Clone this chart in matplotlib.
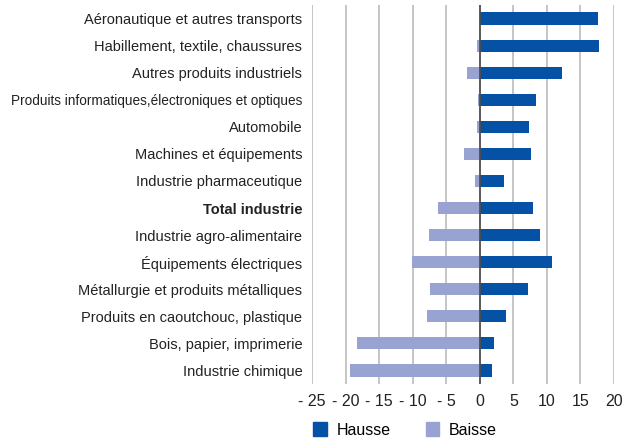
import matplotlib.pyplot as plt
from matplotlib.patches import Patch

plt.rcParams['font.family'] = ['Liberation Sans', 'DejaVu Sans']

# secteurs, du haut vers le bas
secteurs = [
    "Aéronautique et autres transports",
    "Habillement, textile, chaussures",
    "Autres produits industriels",
    "Produits informatiques,électroniques et optiques",
    "Automobile",
    "Machines et équipements",
    "Industrie pharmaceutique",
    "Total industrie",
    "Industrie agro-alimentaire",
    "Équipements électriques",
    "Métallurgie et produits métalliques",
    "Produits en caoutchouc, plastique",
    "Bois, papier, imprimerie",
    "Industrie chimique",
]
hausse = [17.6, 17.8, 12.3, 8.4, 7.4, 7.7, 3.6, 7.9, 9.0, 10.8, 7.2, 3.9, 2.1, 1.8]
baisse = [0.0, -0.4, -1.9, -0.2, -0.4, -2.3, -0.7, -6.2, -7.6, -10.1, -7.4, -7.9, -18.3, -19.4]
ticks = [-25, -20, -15, -10, -5, 0, 5, 10, 15, 20]

c_hausse = '#0451A5'
c_baisse = '#99A3D1'

fig = plt.figure(figsize=(6.33, 4.41), dpi=100)
ax = fig.add_axes([312 / 633, 1 - 384 / 441, 302 / 633, 379 / 441])

y = list(range(len(secteurs)))
ax.barh(y, baisse, height=0.45, color=c_baisse, zorder=3)
ax.barh(y, hausse, height=0.45, color=c_hausse, zorder=3)

ax.set_ylim(len(secteurs) - 0.5, -0.5)
ax.set_xlim(-25, 20)
ax.set_xticks(ticks)
ax.set_xticklabels([("- %d" % -t) if t < 0 else str(t) for t in ticks], fontsize=11.5)
ax.set_yticks(y)
ax.set_yticklabels(secteurs, fontsize=10.5)
for lab in ax.get_yticklabels():
    if lab.get_text() == "Total industrie":
        lab.set_fontweight('bold')
    if len(lab.get_text()) > 40:
        # libellé long : un peu plus petit pour tenir dans la largeur
        lab.set_fontsize(9.8)

ax.tick_params(length=0, pad=7, colors='#222222')
for t in ax.get_xticks():
    ax.axvline(t, color='#4d4d4d' if t == 0 else '#c0c0c0', lw=1.3, zorder=1 if t else 4)
for s in ax.spines.values():
    s.set_visible(False)

handles = [Patch(color=c_hausse, label='Hausse'), Patch(color=c_baisse, label='Baisse')]
fig.legend(handles=handles, loc='center left', bbox_to_anchor=(299 / 633, 1 - 430 / 441),
           ncol=2, frameon=False, fontsize=11.5, handlelength=0.85, handleheight=1.0,
           columnspacing=2.2, handletextpad=0.6)

fig.savefig('out.png', dpi=100)
